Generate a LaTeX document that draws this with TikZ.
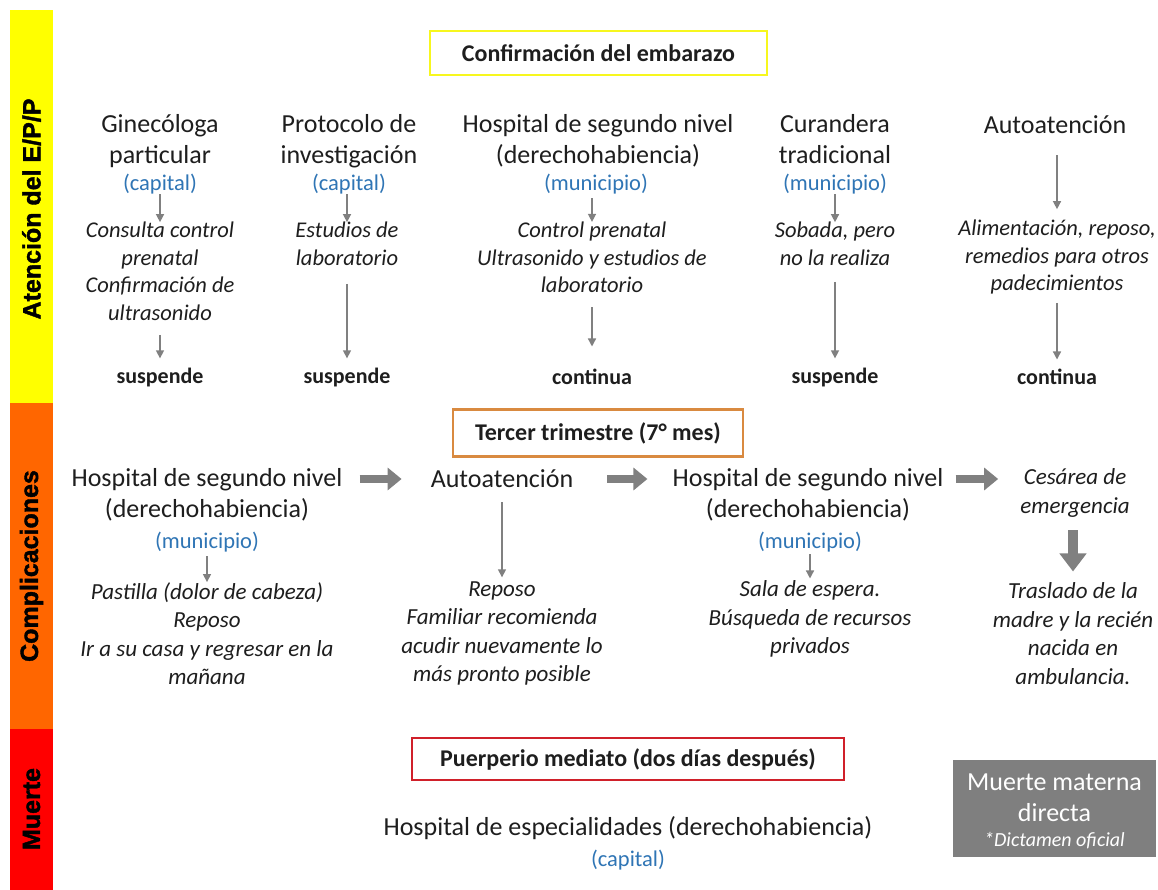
\documentclass[tikz,border=0pt]{standalone}
\usepackage{fontspec}
\setmainfont{Carlito}
\newfontfamily\sidefont[FakeBold=1.6]{Liberation Sans}
\usetikzlibrary{arrows.meta}
\definecolor{barY}{HTML}{FFFF00}
\definecolor{barO}{HTML}{FF6600}
\definecolor{barR}{HTML}{FF0000}
\definecolor{boxY}{HTML}{F7F71E}
\definecolor{boxO}{HTML}{D98A40}
\definecolor{boxR}{HTML}{D0202A}
\definecolor{place}{HTML}{2F75B5}
\definecolor{arrowgray}{HTML}{808080}
\definecolor{boxgray}{HTML}{7F7F7F}
\definecolor{txt}{HTML}{1E1E1E}
\begin{document}
\begin{tikzpicture}[x=1pt,y=-1pt,
  every node/.style={inner sep=0pt, text=txt},
  title/.style={font=\fontsize{26}{31}\selectfont, align=center},
  placetxt/.style={font=\fontsize{22.5}{27}\selectfont, align=center, text=place},
  note/.style={font=\fontsize{22.5}{27.5}\selectfont\itshape, align=center},
  noteb/.style={font=\fontsize{23}{28.5}\selectfont\itshape, align=center},
  outcome/.style={font=\fontsize{22}{26}\selectfont\bfseries},
  phase/.style={draw, line width=2.6pt, fill=white, font=\fontsize{24}{28}\selectfont\bfseries},
  sidelabel/.style={rotate=90, font=\sidefont\fontsize{25}{29}\selectfont\bfseries, text=black},
  thin/.style={draw=arrowgray, line width=1.4pt, -{Triangle[width=8pt,length=8pt]}},
  block/.style={draw=arrowgray, line width=8pt, -{Triangle[width=22pt,length=14pt]}},
  blockv/.style={draw=arrowgray, line width=10pt, -{Triangle[width=26pt,length=18pt]}}
]
\useasboundingbox (0,0) rectangle (1158,890);
\fill[white] (0,0) rectangle (1158,890);

% side bars
\fill[barY] (10,10) rectangle (53,403);
\fill[barO] (10,403) rectangle (53,729);
\fill[barR] (10,729) rectangle (53,890);
\node[sidelabel] (sl1) at (31.5,209) {Atención del E/P/P};
\node[sidelabel] (sl2) at (31.5,566) {Complicaciones};
\node[sidelabel] (sl3) at (31.5,809) {Muerte};

% ---------- section 1 ----------
\node[phase, draw=boxY, minimum width=337pt, minimum height=44pt] (conf) at (598.5,53) {Confirmación del embarazo};

\node[title] (g1) at (160,141) {Ginecóloga\\particular};
\node[placetxt] (g1p) at (160,184) {(capital)};
\node[note] (g1n) at (160,271.5) {Consulta control\\prenatal\\Confirmación de\\ultrasonido};
\node[outcome] (g1o) at (160,378) {suspende};

\node[title] (p2) at (349,141) {Protocolo de\\investigación};
\node[placetxt] (p2p) at (349,184) {(capital)};
\node[note] (p2n) at (347,244) {Estudios de\\laboratorio};
\node[outcome] (p2o) at (347,378) {suspende};

\node[title] (h3) at (598,141) {Hospital de segundo nivel\\(derechohabiencia)};
\node[placetxt] (h3p) at (596,184) {(municipio)};
\node[note] (h3n) at (592,257.5) {Control prenatal\\Ultrasonido y estudios de\\laboratorio};
\node[outcome] (h3o) at (592,376.5) {continua};

\node[title] (c4) at (835,139.5) {Curandera\\tradicional};
\node[placetxt] (c4p) at (835,184) {(municipio)};
\node[note] (c4n) at (835,244) {Sobada, pero\\no la realiza};
\node[outcome] (c4o) at (835,378) {suspende};

\node[title] (a5) at (1055,125) {Autoatención};
\node[note] (a5n) at (1057,257.5) {Alimentación, reposo,\\remedios para otros\\padecimientos};
\node[outcome] (a5o) at (1057,376.5) {continua};

\draw[thin] (g1p.south) -- (g1n.north);
\draw[thin, shorten <=14pt, shorten >=10pt] (g1n.south) -- (g1o.north);
\draw[thin] (p2p.south -| p2n.north) -- (p2n.north);
\draw[thin, shorten <=18pt, shorten >=10pt] (p2n.south) -- (p2o.north);
\draw[thin, shorten <=4pt] (h3p.south -| h3n.north) -- (h3n.north);
\draw[thin, shorten <=14pt, shorten >=22pt] (h3n.south) -- (h3o.north);
\draw[thin] (c4p.south) -- (c4n.north);
\draw[thin, shorten <=16pt, shorten >=10pt] (c4n.south) -- (c4o.north);
\draw[thin, shorten <=21pt, shorten >=11pt] (a5.south -| a5n.north) -- (a5n.north);
\draw[thin, shorten <=8pt, shorten >=9pt] (a5n.south) -- (a5o.north);

% ---------- section 2 ----------
\node[phase, draw=boxO, minimum width=290pt, minimum height=47pt] (ter) at (598,433) {Tercer trimestre (7° mes)};

\node[title] (hA) at (207,494.5) {Hospital de segundo nivel\\(derechohabiencia)};
\node[placetxt] (hAp) at (207,542) {(municipio)};
\node[noteb] (hAn) at (207,633.5) {Pastilla (dolor de cabeza)\\Reposo\\Ir a su casa y regresar en la\\mañana};

\node[title] (aB) at (502,479) {Autoatención};
\node[noteb] (aBn) at (502,633.5) {Reposo\\Familiar recomienda\\acudir nuevamente lo\\más pronto posible};

\node[title] (hC) at (808,494.5) {Hospital de segundo nivel\\(derechohabiencia)};
\node[placetxt] (hCp) at (810,542) {(municipio)};
\node[noteb] (hCn) at (810,619) {Sala de espera.\\Búsqueda de recursos\\privados};

\node[noteb] (cD) at (1075,493) {Cesárea de\\emergencia};
\node[noteb] (cDn) at (1073,633.5) {Traslado de la\\madre y la recién\\nacida en\\ambulancia.};

\draw[block, shorten <=17pt, shorten >=29pt] (hA.east |- aB.west) -- (aB.west);
\draw[block, shorten <=34pt, shorten >=25pt] (aB.east) -- (aB.east -| hC.west);
\draw[block, shorten <=12pt, shorten >=22pt] (hC.east |- aB.east) -- (cD.west |- aB.east);
\draw[thin, shorten <=4pt] (hAp.south) -- (hAn.north);
\draw[thin, shorten <=14pt, shorten >=4pt] (aB.south) -- (aBn.north);
\draw[thin, shorten <=2pt, shorten >=2pt] (hCp.south) -- (hCn.north);
\draw[blockv, shorten <=13pt, shorten >=11pt] (cD.south -| cDn.north) -- (cDn.north);

% ---------- section 3 ----------
\node[phase, draw=boxR, minimum width=432pt, minimum height=42pt] (pu) at (628,759) {Puerperio mediato (dos días después)};
\node[title] (hE) at (628,828) {Hospital de especialidades (derechohabiencia)};
\node[placetxt] (hEp) at (628,860) {(capital)};
\node[fill=boxgray, minimum width=203pt, minimum height=97pt, align=center, text=white,
      font=\fontsize{26}{31}\selectfont] (mm) at (1054.5,808.5) {};
\node[align=center, text=white, font=\fontsize{26}{31}\selectfont] (mmt) at (1054.5,811.5)
      {Muerte materna\\directa\\[-6pt]{\fontsize{20}{24}\selectfont\itshape *Dictamen oficial}};
\end{tikzpicture}
\end{document}
